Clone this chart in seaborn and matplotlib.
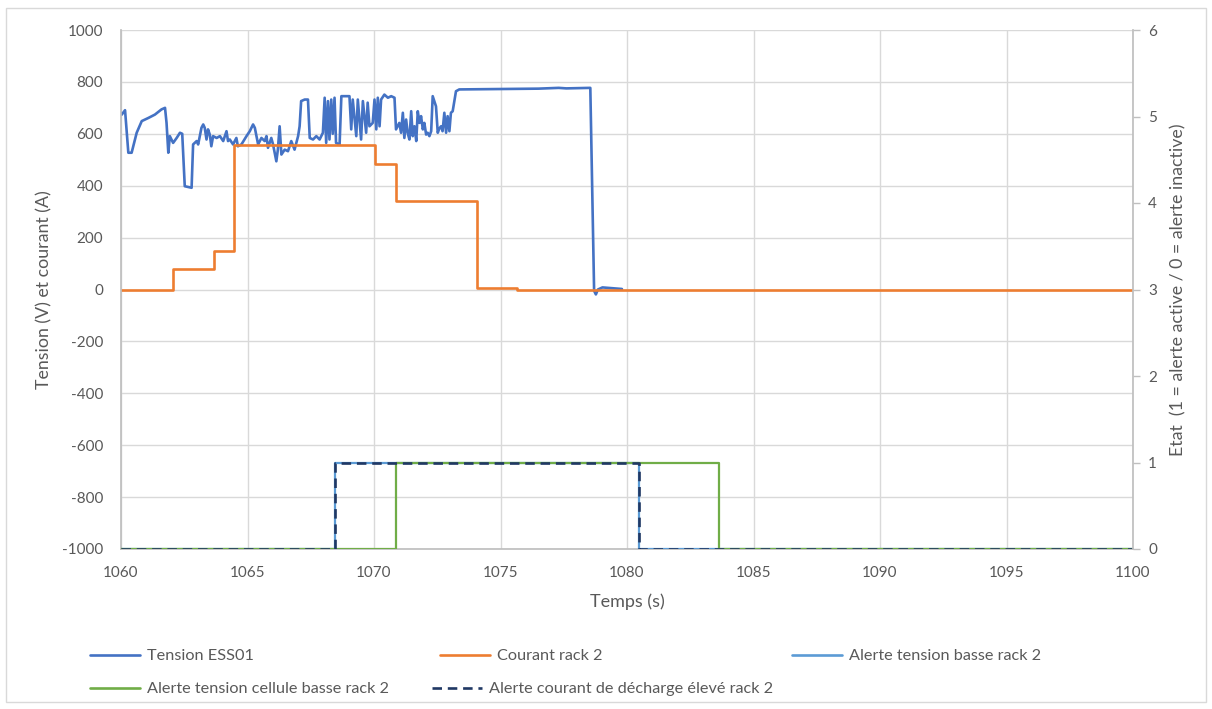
import matplotlib
matplotlib.use("Agg")
import matplotlib.pyplot as plt
import seaborn as sns
from matplotlib.patches import Rectangle
from matplotlib.lines import Line2D

# ---- data -------------------------------------------------------------
# Tension ESS01 (V)
tension_t = [
    1060.00, 1060.03, 1060.16, 1060.29, 1060.42, 1060.62, 1060.82, 1061.08, 1061.34, 1061.60,
    1061.74, 1061.80, 1061.87, 1061.93, 1062.06, 1062.20, 1062.33, 1062.42, 1062.52, 1062.79,
    1062.85, 1062.99, 1063.05, 1063.18, 1063.25, 1063.31, 1063.38, 1063.44, 1063.51, 1063.57,
    1063.64, 1063.78, 1063.91, 1064.04, 1064.17, 1064.23, 1064.30, 1064.43, 1064.56, 1064.62,
    1064.76, 1064.96, 1065.09, 1065.22, 1065.29, 1065.42, 1065.55, 1065.68, 1065.75, 1065.81,
    1065.94, 1066.01, 1066.14, 1066.20, 1066.27, 1066.34, 1066.47, 1066.60, 1066.73, 1066.86,
    1067.00, 1067.06, 1067.12, 1067.26, 1067.39, 1067.46, 1067.59, 1067.72, 1067.85, 1067.98,
    1068.05, 1068.11, 1068.18, 1068.24, 1068.31, 1068.37, 1068.44, 1068.50, 1068.64, 1068.71,
    1069.03, 1069.10, 1069.16, 1069.30, 1069.36, 1069.49, 1069.56, 1069.69, 1069.75, 1069.82,
    1069.95, 1070.02, 1070.09, 1070.15, 1070.22, 1070.28, 1070.41, 1070.55, 1070.68, 1070.81,
    1070.87, 1071.00, 1071.07, 1071.14, 1071.20, 1071.27, 1071.33, 1071.40, 1071.47, 1071.53,
    1071.60, 1071.67, 1071.73, 1071.80, 1071.86, 1071.93, 1071.99, 1072.06, 1072.12, 1072.19,
    1072.26, 1072.32, 1072.45, 1072.52, 1072.58, 1072.65, 1072.71, 1072.78, 1072.85, 1072.91,
    1072.98, 1073.04, 1073.11, 1073.24, 1073.37, 1074.50, 1075.50, 1076.50, 1077.30, 1077.60,
    1078.00, 1078.55, 1078.70, 1078.77, 1078.85, 1079.03, 1079.42, 1079.80,
]
tension_v = [
    680, 674, 691, 527, 527, 604, 649, 661, 674, 694,
    700, 642, 527, 591, 565, 584, 604, 600, 398, 392,
    559, 572, 559, 623, 636, 623, 578, 617, 597, 552,
    591, 584, 591, 572, 610, 572, 578, 559, 584, 552,
    559, 591, 610, 636, 623, 559, 584, 572, 591, 546,
    584, 559, 494, 539, 629, 520, 539, 533, 572, 539,
    591, 629, 726, 732, 732, 584, 578, 591, 578, 604,
    739, 565, 726, 578, 732, 600, 739, 565, 559, 745,
    745, 617, 732, 591, 732, 578, 726, 604, 720, 629,
    642, 732, 617, 739, 629, 732, 751, 739, 745, 739,
    617, 642, 604, 681, 584, 655, 604, 578, 687, 591,
    629, 572, 687, 642, 668, 617, 642, 597, 604, 591,
    610, 745, 706, 604, 620, 629, 610, 681, 604, 668,
    610, 681, 687, 764, 771, 772, 773, 774, 777, 775,
    776, 777, -5, -19, 0, 8, 5, 2,
]

# Courant rack 2 (A), step changes
courant_t = [1060, 1062.06, 1063.68, 1064.46, 1070.02, 1070.87, 1074.06, 1075.65, 1100]
courant_a = [0, 80, 148, 555, 485, 340, 7, 0, 0]

# Alert states (1 = active / 0 = inactive)
alerte_basse_t = [1060, 1068.44, 1080.47, 1100]
alerte_basse = [0, 1, 0, 0]
alerte_cellule_t = [1060, 1070.87, 1083.65, 1100]
alerte_cellule = [0, 1, 0, 0]
alerte_courant_t = [1060, 1068.44, 1080.47, 1100]
alerte_courant = [0, 1, 0, 0]

labels = [
    "Tension ESS01",
    "Courant rack 2",
    "Alerte tension basse rack 2",
    "Alerte tension cellule basse rack 2",
    "Alerte courant de décharge élevé rack 2",
]
x_ticks = [1060, 1065, 1070, 1075, 1080, 1085, 1090, 1095, 1100]
y_ticks = list(range(-1000, 1001, 200))
y2_ticks = [0, 1, 2, 3, 4, 5, 6]

# ---- style ------------------------------------------------------------
sns.set_theme(style="white")
plt.rcParams["font.family"] = ["Lato", "DejaVu Sans"]
plt.rcParams["axes.unicode_minus"] = False

C_BLUE = "#4472C4"
C_ORANGE = "#ED7D31"
C_LBLUE = "#5B9BD5"
C_GREEN = "#70AD47"
C_NAVY = "#203864"
TXT = "#595959"
GRID = "#d9d9d9"
AXIS = "#bfbfbf"

W, H = 1212, 709
fig = plt.figure(figsize=(W / 100, H / 100), dpi=100)
fig.patch.set_facecolor("white")
fig.add_artist(Rectangle((6 / W, 1 - 702 / H), 1200 / W, 694 / H,
                         transform=fig.transFigure, fill=False,
                         edgecolor=GRID, linewidth=1))

ax = fig.add_axes([121 / W, 1 - 549 / H, (1133 - 121) / W, (549 - 30) / H])
ax2 = ax.twinx()

# primary axis: voltage and current
sns.lineplot(x=tension_t, y=tension_v, ax=ax, color=C_BLUE, lw=1.9,
             estimator=None, label=labels[0], legend=False)
sns.lineplot(x=courant_t, y=courant_a, ax=ax, color=C_ORANGE, lw=1.9,
             estimator=None, drawstyle="steps-post", label=labels[1], legend=False)

# secondary axis: alert states
sns.lineplot(x=alerte_basse_t, y=alerte_basse, ax=ax2, color=C_LBLUE, lw=1.6,
             estimator=None, drawstyle="steps-post", label=labels[2], legend=False)
sns.lineplot(x=alerte_cellule_t, y=alerte_cellule, ax=ax2, color=C_GREEN, lw=1.6,
             estimator=None, drawstyle="steps-post", label=labels[3], legend=False)
sns.lineplot(x=alerte_courant_t, y=alerte_courant, ax=ax2, color=C_NAVY, lw=1.9,
             estimator=None, drawstyle="steps-post", label=labels[4], legend=False,
             dashes=False, linestyle=(0, (3.6, 2.2)))

for a in (ax, ax2):
    lg = a.get_legend()
    if lg is not None:
        lg.remove()

ax.set_xlim(1060, 1100)
ax.set_ylim(-1000, 1000)
ax2.set_ylim(0, 6)
ax.set_xticks(x_ticks)
ax.set_yticks(y_ticks)
ax2.set_yticks(y2_ticks)

ax.grid(True, color=GRID, linewidth=1)
ax2.grid(False)
ax.set_axisbelow(True)

for a in (ax, ax2):
    for s in a.spines.values():
        s.set_visible(False)
ax.spines["left"].set_visible(True)
ax.spines["left"].set_color(AXIS)
ax.spines["bottom"].set_visible(True)
ax.spines["bottom"].set_color(AXIS)
ax2.spines["right"].set_visible(True)
ax2.spines["right"].set_color(AXIS)

ax.tick_params(axis="x", length=0, pad=12, labelsize=11, labelcolor=TXT)
ax.tick_params(axis="y", length=0, pad=13, labelsize=11, labelcolor=TXT)
ax2.tick_params(axis="y", length=5, width=1, color=AXIS, direction="out",
                pad=6, labelsize=11, labelcolor=TXT)

ax.set_xlabel("Temps (s)", fontsize=13, color=TXT)
ax.xaxis.set_label_coords(0.5, -0.085)
ax.set_ylabel("Tension (V) et courant (A)", fontsize=12.8, color=TXT)
ax.yaxis.set_label_coords(-0.068, 0.5)
ax2.set_ylabel("Etat  (1 = alerte active / 0 = alerte inactive)", fontsize=12.8, color=TXT)
ax2.yaxis.set_label_coords(1.0365, 0.5)

# legend entries laid out in rows below the plot
handles = [
    Line2D([], [], color=C_BLUE, lw=1.9),
    Line2D([], [], color=C_ORANGE, lw=1.9),
    Line2D([], [], color=C_LBLUE, lw=1.9),
    Line2D([], [], color=C_GREEN, lw=1.9),
    Line2D([], [], color=C_NAVY, lw=1.9, linestyle=(0, (3.6, 2.2))),
]
slots = [(90, 656), (440, 656), (792, 656), (90, 689), (432, 689)]
for h, lab, (px, py) in zip(handles, labels, slots):
    fig.legend([h], [lab], loc="center left", bbox_to_anchor=(px / W, 1 - py / H),
               frameon=False, fontsize=11.7, handlelength=3.1, handletextpad=0.4,
               borderpad=0, borderaxespad=0, labelcolor=TXT)

fig.savefig("out.png", dpi=100)
